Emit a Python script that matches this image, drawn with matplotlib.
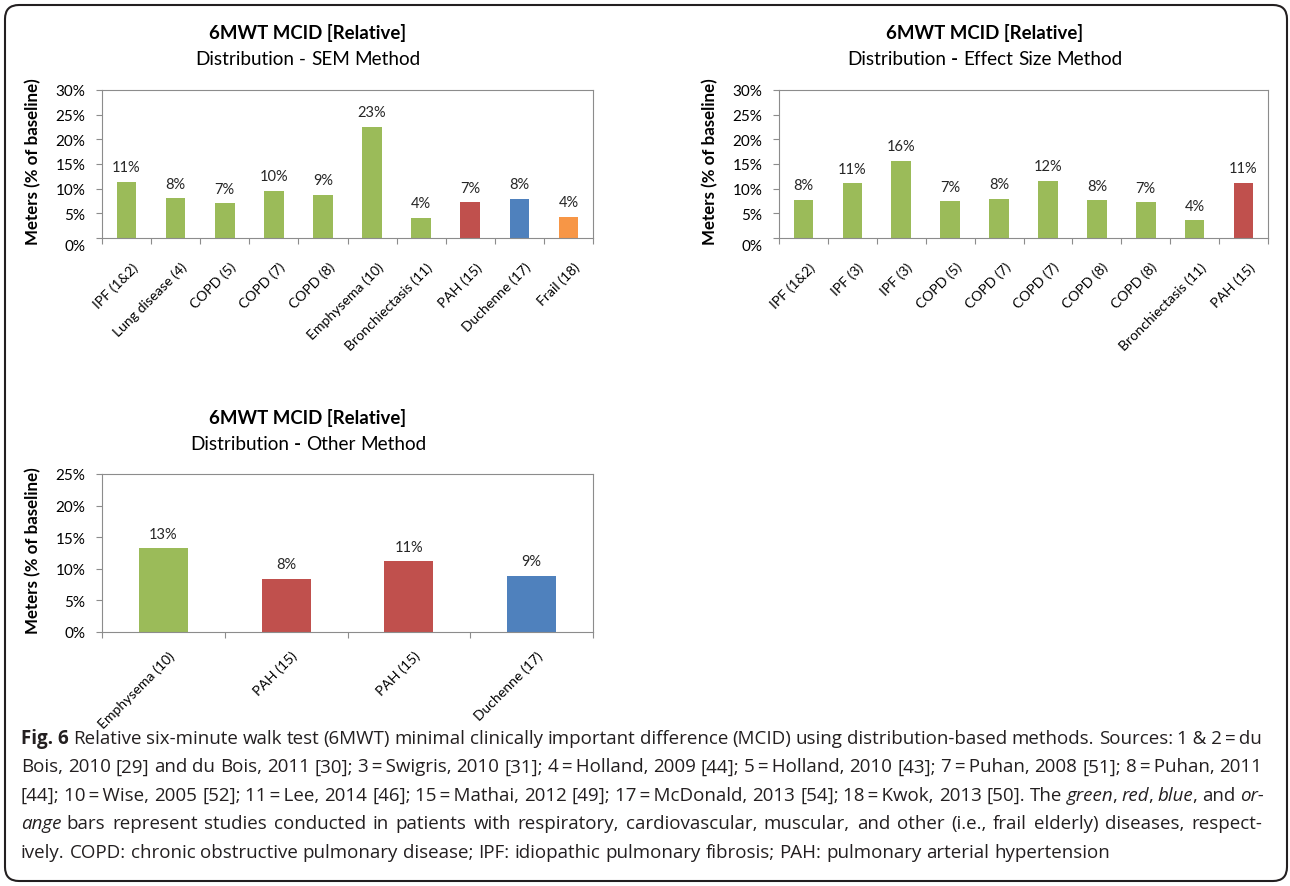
import matplotlib
matplotlib.use('Agg')
import matplotlib.pyplot as plt
import numpy as np
from matplotlib.patches import FancyBboxPatch
from matplotlib.transforms import IdentityTransform, ScaledTranslation

CHART_FONT = ['Lato', 'DejaVu Sans']
TEXT_FONT = ['Open Sans', 'DejaVu Sans']
plt.rcParams['font.family'] = CHART_FONT

GREEN = '#9BBB59'
RED = '#C0504D'
BLUE = '#4F81BD'
ORANGE = '#F79646'
AXIS = '#8C8C8C'

# SEM method
sem_labels = ['IPF (1&2)', 'Lung disease (4)', 'COPD (5)', 'COPD (7)', 'COPD (8)',
              'Emphysema (10)', 'Bronchiectasis (11)', 'PAH (15)', 'Duchenne (17)', 'Frail (18)']
sem_values = [11.4, 8.1, 7.1, 9.6, 8.8, 22.6, 4.1, 7.3, 8.0, 4.3]
sem_colors = [GREEN] * 7 + [RED, BLUE, ORANGE]

# effect size method
es_labels = ['IPF (1&2)', 'IPF (3)', 'IPF (3)', 'COPD (5)', 'COPD (7)', 'COPD (7)',
             'COPD (8)', 'COPD (8)', 'Bronchiectasis (11)', 'PAH (15)']
es_values = [7.8, 11.1, 15.7, 7.4, 8.0, 11.6, 7.7, 7.3, 3.6, 11.2]
es_colors = [GREEN] * 9 + [RED]

# other methods
other_labels = ['Emphysema (10)', 'PAH (15)', 'PAH (15)', 'Duchenne (17)']
other_values = [13.3, 8.4, 11.2, 8.9]
other_colors = [GREEN, RED, RED, BLUE]

W, H = 1290, 887
fig = plt.figure(figsize=(W / 100, H / 100), dpi=100)
renderer = fig.canvas.get_renderer()

STYLE = {'bold': dict(fontweight='bold'), 'italic': dict(fontstyle='italic'), 'normal': {}}


def fx(x):
    return x / W


def fy(y):
    return 1 - y / H


def width_of(t):
    return t.get_window_extent(renderer).width


def space_width(size, family):
    a = fig.text(0, 0, 'x x', fontsize=size, family=family)
    b = fig.text(0, 0, 'xx', fontsize=size, family=family)
    w = width_of(a) - width_of(b)
    a.remove()
    b.remove()
    return w


def split_words(line):
    words = [[]]
    for text, style in line:
        parts = text.split(' ')
        for i, p in enumerate(parts):
            if i > 0:
                words.append([])
            if p:
                words[-1].append((p, style))
    return [w for w in words if w]


def place_words(line, base, size, family, left=None, right=None, center=None, color='black'):
    """Lay out mixed-style words on one baseline (pixel coords)."""
    words = split_words(line)
    placed = []
    for word in words:
        parts = []
        for s, style in word:
            t = fig.text(0, fy(base), s, fontsize=size, family=family, color=color,
                         va='baseline', ha='left', **STYLE[style])
            w = width_of(t)
            if style == 'italic':
                w -= 1.5  # slanted glyphs overhang their advance
            parts.append((t, w))
        placed.append(parts)
    word_w = [sum(w for _, w in p) for p in placed]
    if left is not None and right is not None:
        gap = (right - left - sum(word_w)) / max(len(words) - 1, 1)
        x = left
    else:
        gap = space_width(size, family)
        total = sum(word_w) + gap * (len(words) - 1)
        x = left if left is not None else center - total / 2
    for parts, ww in zip(placed, word_w):
        px = x
        for t, w in parts:
            t.set_x(fx(px))
            px += w
        x += ww + gap


def panel(box, labels, values, colors, ymax, subtitle, title_x, title_y, drop_zero, label_pad=16):
    x0, y0, x1, y1 = box
    ax = fig.add_axes([fx(x0), fy(y1), (x1 - x0) / W, (y1 - y0) / H])
    x = np.arange(len(values))
    ax.bar(x, values, width=0.4, color=colors, zorder=2)
    for xi, v in zip(x, values):
        ax.annotate(f'{v:.0f}%', (xi, v), xytext=(0, 7.5), textcoords='offset points',
                    ha='center', va='baseline', fontsize=10.5, color='#262626')

    ax.set_xlim(-0.5, len(values) - 0.5)
    ax.set_ylim(0, ymax)
    yt = np.arange(0, ymax + 1, 5)
    ax.set_yticks(yt)
    ax.set_yticklabels([f'{t}%' for t in yt])
    ax.set_xticks(x)
    ax.set_xticklabels(labels, rotation=45, ha='right', va='top', rotation_mode='anchor')
    ax.set_xticks(np.arange(-0.5, len(values)), minor=True)
    ax.tick_params(axis='x', which='major', length=0, pad=label_pad, labelsize=10.1)
    ax.tick_params(axis='x', which='minor', length=4, width=0.8, color=AXIS, direction='out')
    ax.tick_params(axis='y', length=4, width=0.8, color=AXIS, pad=8, labelsize=11)
    for lab in ax.get_xticklabels():
        lab.set_transform(lab.get_transform() + ScaledTranslation(5 / 100, 0, fig.dpi_scale_trans))
    if drop_zero:
        zero = ax.get_yticklabels()[0]
        zero.set_transform(zero.get_transform() + ScaledTranslation(0, -7 / 100, fig.dpi_scale_trans))
    for s in ax.spines.values():
        s.set_color(AXIS)
        s.set_linewidth(0.8)

    fig.text(fx(title_x), fy(title_y), '6MWT MCID [Relative]', ha='center', va='baseline',
             fontsize=13.4, fontweight='bold')
    place_words(subtitle, title_y + 26, 13.6, CHART_FONT, center=title_x)
    fig.text(fx(x0 - 69), fy((y0 + y1) / 2 - 3), 'Meters (% of baseline)', rotation=90,
             ha='center', va='center', fontsize=12.2, fontweight='bold')
    return ax


panel((102, 91, 593, 239), sem_labels, sem_values, sem_colors, 30,
      [('Distribution - SEM Method', 'normal')], 308, 39, True)
panel((779, 91, 1268, 239), es_labels, es_values, es_colors, 30,
      [('Distribution ', 'normal'), ('-', 'bold'), (' Effect Size Method', 'normal')],
      985, 39, True)
panel((102, 475, 593, 633), other_labels, other_values, other_colors, 25,
      [('Distribution ', 'normal'), ('-', 'bold'), (' Other Method', 'normal')],
      308, 424, False, label_pad=12)

# rounded frame around the whole figure
frame = FancyBboxPatch((5, 5), 1282, 876, boxstyle='round,pad=0,rounding_size=14',
                       transform=IdentityTransform(), facecolor='none',
                       edgecolor='#231F20', linewidth=1.5)
fig.add_artist(frame)

# caption, justified except for the last line
caption_lines = [
    [('Fig.\u00a06', 'bold'),
     (' Relative six-minute walk test (6MWT) minimal clinically important difference (MCID) '
      'using distribution-based methods. Sources: 1\u00a0&\u00a02\u2009=\u2009du', 'normal')],
    [('Bois, 2010 [29] and du Bois, 2011 [30]; 3\u2009=\u2009Swigris, 2010 [31]; '
      '4\u2009=\u2009Holland, 2009 [44]; 5\u2009=\u2009Holland, 2010 [43]; '
      '7\u2009=\u2009Puhan, 2008 [51]; 8\u2009=\u2009Puhan, 2011', 'normal')],
    [('[44]; 10\u2009=\u2009Wise, 2005 [52]; 11\u2009=\u2009Lee, 2014 [46]; '
      '15\u2009=\u2009Mathai, 2012 [49]; 17\u2009=\u2009McDonald, 2013 [54]; '
      '18\u2009=\u2009Kwok, 2013 [50]. The ', 'normal'),
     ('green', 'italic'), (', ', 'normal'), ('red', 'italic'), (', ', 'normal'),
     ('blue', 'italic'), (', and ', 'normal'), ('or-', 'italic')],
    [('ange', 'italic'),
     (' bars represent studies conducted in patients with respiratory, cardiovascular, '
      'muscular, and other (i.e., frail elderly) diseases, respect-', 'normal')],
    [('ively. COPD: chronic obstructive pulmonary disease; IPF: idiopathic pulmonary '
      'fibrosis; PAH: pulmonary arterial hypertension', 'normal')],
]

CAP_SIZE = 13.5
CAP_LEFT, CAP_RIGHT = 21, 1262
cap_baselines = [744, 772.5, 801, 829.5, 858]

for li, (line, base) in enumerate(zip(caption_lines, cap_baselines)):
    if li < len(caption_lines) - 1:
        place_words(line, base, CAP_SIZE, TEXT_FONT, left=CAP_LEFT, right=CAP_RIGHT,
                    color='#231F20')
    else:
        place_words(line, base, CAP_SIZE, TEXT_FONT, left=CAP_LEFT, color='#231F20')

fig.savefig('out.png', dpi=100)
